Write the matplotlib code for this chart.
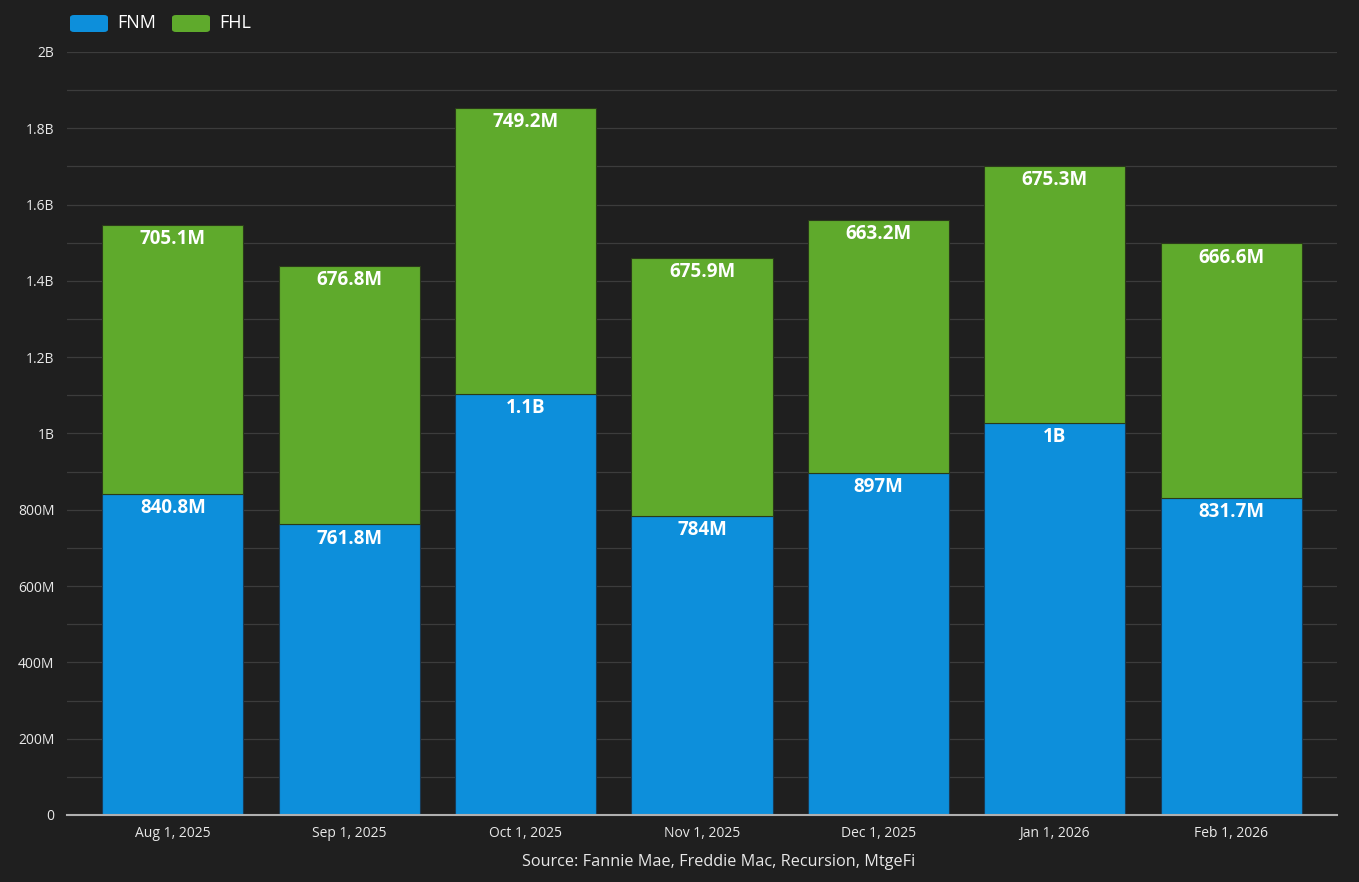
import numpy as np
import matplotlib.pyplot as plt
from matplotlib.patches import FancyBboxPatch
from matplotlib.ticker import MultipleLocator, FuncFormatter

plt.rcParams['font.family'] = ['Open Sans', 'Noto Sans', 'DejaVu Sans']

# =========================
# DATOS
# =========================
fechas = ["Aug 1, 2025", "Sep 1, 2025", "Oct 1, 2025", "Nov 1, 2025",
          "Dec 1, 2025", "Jan 1, 2026", "Feb 1, 2026"]
fnm = [840.8e6, 761.8e6, 1.104e9, 784.0e6, 897.0e6, 1.027e9, 831.7e6]
fhl = [705.1e6, 676.8e6, 749.2e6, 675.9e6, 663.2e6, 675.3e6, 666.6e6]

fondo = "#1f1f1f"
azul = "#0d8fdb"
verde = "#5faa2c"


def formato(v):
    # 840.8M, 1.1B, 1B ...
    if v >= 1e9:
        s = f"{v / 1e9:.1f}".rstrip("0").rstrip(".")
        return s + "B"
    if v >= 1e6:
        s = f"{v / 1e6:.1f}".rstrip("0").rstrip(".")
        return s + "M"
    return f"{v:g}"


def eje_y(v, pos):
    if v == 0:
        return "0"
    return formato(v)


fig = plt.figure(figsize=(13.59, 8.82), dpi=100, facecolor=fondo)
ax = fig.add_axes([67 / 1359, 1 - 815 / 882, 1270 / 1359, 763 / 882])
ax.set_facecolor(fondo)
ax.set_axisbelow(True)

x = np.arange(len(fechas))
ax.bar(x, fnm, width=0.8, color=azul, edgecolor="#1a3a55", linewidth=0.8, zorder=2)
ax.bar(x, fhl, width=0.8, bottom=fnm, color=verde, edgecolor="#2a3a1a", linewidth=0.8, zorder=2)

# etiquetas dentro de cada segmento
for i in range(len(fechas)):
    ax.annotate(formato(fnm[i]), (x[i], fnm[i]), xytext=(0, -3), textcoords="offset points",
                ha="center", va="top", color="white", fontsize=13.5, fontweight="bold", zorder=4)
    ax.annotate(formato(fhl[i]), (x[i], fnm[i] + fhl[i]), xytext=(0, -3), textcoords="offset points",
                ha="center", va="top", color="white", fontsize=13.5, fontweight="bold", zorder=4)

ax.set_xlim(-0.6, len(fechas) - 0.4)
ax.set_ylim(0, 2e9)
ax.yaxis.set_major_locator(MultipleLocator(2e8))
ax.yaxis.set_minor_locator(MultipleLocator(1e8))
ax.yaxis.set_major_formatter(FuncFormatter(eje_y))
ax.grid(True, which="both", axis="y", color="#3c3c3c", linewidth=0.9, zorder=0)

ax.set_xticks(x)
ax.set_xticklabels(fechas)
ax.tick_params(axis="both", which="both", length=0, colors="#e8e8e8", labelsize=10)
ax.tick_params(axis="x", pad=8)
ax.tick_params(axis="y", pad=9)

for lado in ["top", "right", "left"]:
    ax.spines[lado].set_visible(False)
ax.spines["bottom"].set_color("#b0b0b0")
ax.spines["bottom"].set_linewidth(1.5)
ax.spines["bottom"].set_zorder(3)

# leyenda manual con rectangulos redondeados
for j, (nombre, color) in enumerate([("FNM", azul), ("FHL", verde)]):
    x0 = (70 + j * 102) / 1359
    caja = FancyBboxPatch((x0, 1 - 32 / 882), 38 / 1359, 17 / 882,
                          boxstyle="round,pad=0,rounding_size=0.003",
                          transform=fig.transFigure, facecolor=color, edgecolor="none")
    fig.patches.append(caja)
    fig.text(x0 + 47 / 1359, 1 - 23 / 882, nombre, color="white", fontsize=13, va="center", ha="left")

fig.text(719 / 1359, 1 - 862 / 882, "Source: Fannie Mae, Freddie Mac, Recursion, MtgeFi",
         color="#e8e8e8", fontsize=11.7, ha="center", va="center")

fig.savefig("out.png", dpi=100, facecolor=fondo)
